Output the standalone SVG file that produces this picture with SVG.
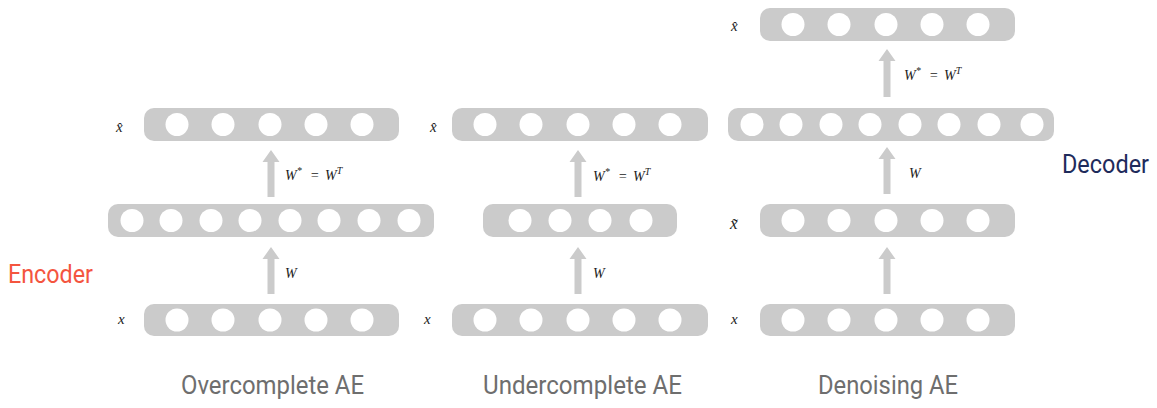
<svg xmlns="http://www.w3.org/2000/svg" width="1157" height="408" viewBox="0 0 1157 408">
<style>
.bar{fill:#cbcbcb}
.c{fill:#ffffff}
.arrow{fill:#cbcbcb}
.m{font-family:"Liberation Serif","DejaVu Serif",serif;font-style:italic;font-size:14px;fill:#222}
.xl{font-family:"Liberation Serif","DejaVu Serif",serif;font-style:italic;font-size:15px;fill:#222}
.sup{font-size:10px}
.title{font-family:Roboto,"Liberation Sans",sans-serif;font-size:25px;fill:#6e6e6e}
.enc{font-family:Roboto,"Liberation Sans",sans-serif;font-size:25px;fill:#f4553f}
.dec{font-family:Roboto,"Liberation Sans",sans-serif;font-size:25px;fill:#1e2b5b}
</style>
<rect width="1157" height="408" fill="#ffffff"/>

<!-- Overcomplete AE -->
<g id="oc-input">
<rect class="bar" x="144" y="304" width="255" height="32" rx="10"/>
<circle class="c" cx="177" cy="320" r="11.5"/><circle class="c" cx="223" cy="320" r="11.5"/><circle class="c" cx="270" cy="320" r="11.5"/><circle class="c" cx="316" cy="320" r="11.5"/><circle class="c" cx="362" cy="320" r="11.5"/>
<text class="xl" x="118" y="324">x</text>
</g>
<g id="oc-hidden">
<rect class="bar" x="108" y="204" width="326" height="33" rx="10"/>
<circle class="c" cx="132" cy="220.5" r="11.5"/><circle class="c" cx="171" cy="220.5" r="11.5"/><circle class="c" cx="211" cy="220.5" r="11.5"/><circle class="c" cx="250" cy="220.5" r="11.5"/><circle class="c" cx="290" cy="220.5" r="11.5"/><circle class="c" cx="329" cy="220.5" r="11.5"/><circle class="c" cx="369" cy="220.5" r="11.5"/><circle class="c" cx="409" cy="220.5" r="11.5"/>
</g>
<g id="oc-output">
<rect class="bar" x="144" y="108" width="255" height="33" rx="10"/>
<circle class="c" cx="177" cy="124.5" r="11.5"/><circle class="c" cx="223" cy="124.5" r="11.5"/><circle class="c" cx="270" cy="124.5" r="11.5"/><circle class="c" cx="316" cy="124.5" r="11.5"/><circle class="c" cx="362" cy="124.5" r="11.5"/>
<text class="xl" x="116" y="132">x̂</text>
</g>

<!-- Undercomplete AE -->
<g id="uc-input">
<rect class="bar" x="452" y="304" width="256" height="32" rx="10"/>
<circle class="c" cx="485" cy="320" r="11.5"/><circle class="c" cx="531" cy="320" r="11.5"/><circle class="c" cx="578" cy="320" r="11.5"/><circle class="c" cx="624" cy="320" r="11.5"/><circle class="c" cx="670" cy="320" r="11.5"/>
<text class="xl" x="424" y="324">x</text>
</g>
<g id="uc-hidden">
<rect class="bar" x="483" y="204" width="194" height="33" rx="10"/>
<circle class="c" cx="520" cy="220.5" r="11.5"/><circle class="c" cx="560" cy="220.5" r="11.5"/><circle class="c" cx="600" cy="220.5" r="11.5"/><circle class="c" cx="641" cy="220.5" r="11.5"/>
</g>
<g id="uc-output">
<rect class="bar" x="452" y="108" width="256" height="33" rx="10"/>
<circle class="c" cx="485" cy="124.5" r="11.5"/><circle class="c" cx="531" cy="124.5" r="11.5"/><circle class="c" cx="578" cy="124.5" r="11.5"/><circle class="c" cx="624" cy="124.5" r="11.5"/><circle class="c" cx="670" cy="124.5" r="11.5"/>
<text class="xl" x="430" y="132">x̂</text>
</g>

<!-- Denoising AE -->
<g id="dn-input">
<rect class="bar" x="760" y="304" width="255" height="32" rx="10"/>
<circle class="c" cx="793" cy="320" r="11.5"/><circle class="c" cx="839" cy="320" r="11.5"/><circle class="c" cx="886" cy="320" r="11.5"/><circle class="c" cx="932" cy="320" r="11.5"/><circle class="c" cx="978" cy="320" r="11.5"/>
<text class="xl" x="731" y="324">x</text>
</g>
<g id="dn-corrupt">
<rect class="bar" x="760" y="204" width="255" height="33" rx="10"/>
<circle class="c" cx="793" cy="220.5" r="11.5"/><circle class="c" cx="839" cy="220.5" r="11.5"/><circle class="c" cx="886" cy="220.5" r="11.5"/><circle class="c" cx="932" cy="220.5" r="11.5"/><circle class="c" cx="978" cy="220.5" r="11.5"/>
<text class="xl" x="730" y="229" style="font-size:17px">x̃</text>
</g>
<g id="dn-hidden">
<rect class="bar" x="728" y="108" width="326" height="33" rx="10"/>
<circle class="c" cx="752" cy="124.5" r="11.5"/><circle class="c" cx="791" cy="124.5" r="11.5"/><circle class="c" cx="831" cy="124.5" r="11.5"/><circle class="c" cx="870" cy="124.5" r="11.5"/><circle class="c" cx="910" cy="124.5" r="11.5"/><circle class="c" cx="949" cy="124.5" r="11.5"/><circle class="c" cx="989" cy="124.5" r="11.5"/><circle class="c" cx="1032" cy="124.5" r="11.5"/>
</g>
<g id="dn-output">
<rect class="bar" x="760" y="8" width="255" height="33" rx="10"/>
<circle class="c" cx="793" cy="24.5" r="11.5"/><circle class="c" cx="839" cy="24.5" r="11.5"/><circle class="c" cx="886" cy="24.5" r="11.5"/><circle class="c" cx="932" cy="24.5" r="11.5"/><circle class="c" cx="978" cy="24.5" r="11.5"/>
<text class="xl" x="731" y="31">x̂</text>
</g>

<!-- connectors -->
<g id="connectors">
<path class="arrow" d="M271,247 L279.5,259 L274.5,259 L274.5,294 L267.5,294 L267.5,259 L262.5,259 Z"/>
<path class="arrow" d="M271,150 L279.5,162 L274.5,162 L274.5,197 L267.5,197 L267.5,162 L262.5,162 Z"/>
<path class="arrow" d="M578,247 L586.5,259 L581.5,259 L581.5,294 L574.5,294 L574.5,259 L569.5,259 Z"/>
<path class="arrow" d="M578,150 L586.5,162 L581.5,162 L581.5,197 L574.5,197 L574.5,162 L569.5,162 Z"/>
<path class="arrow" d="M887,247 L895.5,259 L890.5,259 L890.5,294 L883.5,294 L883.5,259 L878.5,259 Z"/>
<path class="arrow" d="M887,147 L895.5,159 L890.5,159 L890.5,194 L883.5,194 L883.5,159 L878.5,159 Z"/>
<path class="arrow" d="M887,49 L895.5,61 L890.5,61 L890.5,97 L883.5,97 L883.5,61 L878.5,61 Z"/>
<text class="m" x="285" y="278">W</text>
<text class="m" x="285" y="180">W<tspan class="sup" dy="-6">*</tspan><tspan x="310" dy="6">=</tspan><tspan x="325">W</tspan><tspan class="sup" dy="-6">T</tspan></text>
<text class="m" x="593" y="278">W</text>
<text class="m" x="593" y="181">W<tspan class="sup" dy="-6">*</tspan><tspan x="618" dy="6">=</tspan><tspan x="633">W</tspan><tspan class="sup" dy="-6">T</tspan></text>
<text class="m" x="909" y="178">W</text>
<text class="m" x="904" y="80">W<tspan class="sup" dy="-6">*</tspan><tspan x="929" dy="6">=</tspan><tspan x="944">W</tspan><tspan class="sup" dy="-6">T</tspan></text>
</g>

<text class="enc" x="8" y="283" textLength="85" lengthAdjust="spacingAndGlyphs">Encoder</text>
<text class="dec" x="1062" y="173" textLength="87" lengthAdjust="spacingAndGlyphs">Decoder</text>
<text class="title" x="181" y="394" textLength="183" lengthAdjust="spacingAndGlyphs">Overcomplete AE</text>
<text class="title" x="483" y="394" textLength="199" lengthAdjust="spacingAndGlyphs">Undercomplete AE</text>
<text class="title" x="818" y="394" textLength="140" lengthAdjust="spacingAndGlyphs">Denoising AE</text>
</svg>
